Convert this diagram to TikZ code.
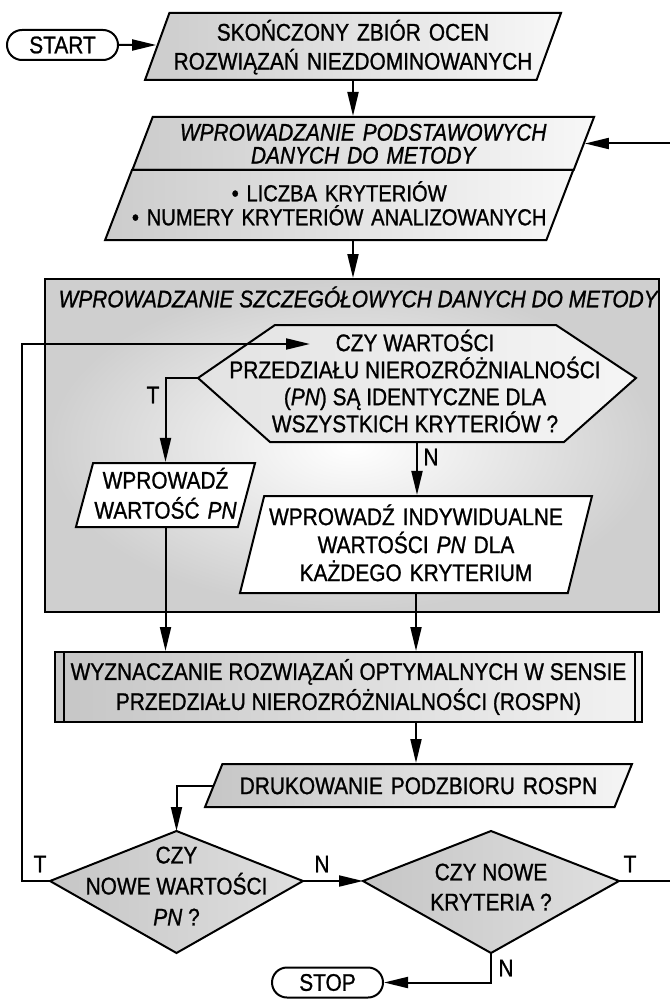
\documentclass[tikz,border=0pt]{standalone}
\usepackage{fontspec}
\setmainfont{Liberation Sans}[FakeStretch=0.87, FakeBold=1.0]
\usetikzlibrary{positioning}
\usetikzlibrary{calc}
\usetikzlibrary{arrows.meta}
\usetikzlibrary{shapes.geometric}
\usetikzlibrary{shapes.misc}

\begin{document}
\begin{tikzpicture}[x=0.5pt, y=-0.5pt, line width=1pt]
    % Flowchart style
    \tikzset{
        every node/.style={font=\fontsize{12}{14.5}\selectfont, align=center},
        flow/.style={-{Triangle[length=12pt,width=5.5pt]}},
        termbox/.style={rounded rectangle, draw, fill=white, minimum width=55.5pt, minimum height=15pt, inner sep=0pt},
        iobox/.style={trapezium, draw, inner sep=0pt, left color=gray!40, right color=gray!6},
        inbox/.style={trapezium, draw, inner sep=0pt, fill=white},
        procbox/.style={rectangle, draw, inner sep=0pt, left color=gray!45, right color=gray!10},
        groupbox/.style={rectangle, draw, inner sep=0pt, inner color=white, outer color=gray!38},
        decision/.style={draw, left color=gray!45, middle color=gray!6, right color=gray!25},
    }

    \useasboundingbox (0,0) rectangle (669,1000);

    % Start and basic data
    \node[termbox] (start) at (62.5,45) {START};
    \node[iobox, trapezium left angle=70, trapezium right angle=110, text width=183.6pt, text height=13.8pt, text depth=19.7pt] (p1) at (353,46.5) {SKOŃCZONY ZBIÓR OCEN\\ROZWIĄZAŃ NIEZDOMINOWANYCH};
    \node[iobox, trapezium left angle=69, trapezium right angle=111, text width=210.5pt, text height=11.8pt, text depth=14.7pt, font=\fontsize{12}{11.5}\selectfont\itshape] (p2a) at (363.2,143.5) {WPROWADZANIE PODSTAWOWYCH\\DANYCH DO METODY};
    \node[iobox, trapezium left angle=69, trapezium right angle=111, text width=225pt, inner xsep=-8.9pt, text height=15.65pt, text depth=19.35pt, font=\fontsize{11.6}{12}\selectfont] (p2b) at (339.2,205) {• LICZBA KRYTERIÓW\\• NUMERY KRYTERIÓW ANALIZOWANYCH};

    % Detailed data
    \node[groupbox, minimum width=307pt, minimum height=166.5pt] (detail) at (352,445.5) {};
    \node[anchor=west, font=\fontsize{12}{14.5}\selectfont\itshape] (detailhead) at (51,297) {WPROWADZANIE SZCZEGÓŁOWYCH DANYCH DO METODY};

    \coordinate (hexw) at (198,378);
    \coordinate (hexe) at (636,378);
    \coordinate (hexs) at (417,442);
    \draw[decision, left color=gray!22, middle color=white, right color=gray!8] (hexw) -- (275,325) -- (556,325) -- (hexe) -- (564,442) -- (270,442) -- cycle;
    \node[font=\fontsize{12}{13.5}\selectfont] (hex) at (415,381) {CZY WARTOŚCI\\PRZEDZIAŁU NIEROZRÓŻNIALNOŚCI\\(\textit{PN}) SĄ IDENTYCZNE DLA\\WSZYSTKICH KRYTERIÓW ?};

    \node[inbox, trapezium left angle=75, trapezium right angle=105, text width=72.4pt, text height=12.8pt, text depth=19.2pt, font=\fontsize{12}{15}\selectfont] (pv) at (165.5,495) {WPROWADŹ\\WARTOŚĆ \textit{PN}};
    \node[inbox, trapezium left angle=76, trapezium right angle=104, text width=151.8pt, text height=14.55pt, text depth=33.95pt, font=\fontsize{12}{14}\selectfont] (pind) at (416,544.5) {WPROWADŹ INDYWIDUALNE\\WARTOŚCI \textit{PN} DLA\\KAŻDEGO KRYTERIUM};

    % Processing and output
    \node[procbox, minimum width=293.5pt, minimum height=35pt, font=\fontsize{12}{15}\selectfont] (wyz) at (348.5,687) {WYZNACZANIE ROZWIĄZAŃ OPTYMALNYCH W SENSIE\\PRZEDZIAŁU NIEROZRÓŻNIALNOŚCI (ROSPN)};
    \draw[line width=0.6pt] ($(wyz.north west)+(10,0)$) -- ($(wyz.south west)+(10,0)$);
    \draw[line width=0.6pt] ($(wyz.north east)+(-8,0)$) -- ($(wyz.south east)+(-8,0)$);
    \node[iobox, trapezium left angle=68, trapezium right angle=112, text width=196.1pt, text height=15.05pt, text depth=6.45pt, left color=gray!45, right color=gray!8] (pdr) at (418.5,785.5) {DRUKOWANIE PODZBIORU ROSPN};

    % Decisions
    \coordinate (q1n) at (176.5,831);
    \coordinate (q1e) at (303,881);
    \coordinate (q1s) at (176.5,953);
    \coordinate (q1w) at (50,881);
    \draw[decision] (q1n) -- (q1e) -- (q1s) -- (q1w) -- cycle;
    \node[font=\fontsize{12}{15.5}\selectfont] (q1) at (176.5,886) {CZY\\NOWE WARTOŚCI\\\textit{PN} ?};

    \coordinate (q2n) at (491,831);
    \coordinate (q2e) at (619,881);
    \coordinate (q2s) at (491,953);
    \coordinate (q2w) at (363,881);
    \draw[decision] (q2n) -- (q2e) -- (q2s) -- (q2w) -- cycle;
    \node[font=\fontsize{12}{15}\selectfont] (q2) at (491,887) {CZY NOWE\\KRYTERIA ?};

    \node[termbox] (stop) at (327.5,982.5) {STOP};

    % Loop corners
    \coordinate (lloop) at (22,881);
    \coordinate (loopin) at (310,344);
    \coordinate (rloop) at (673,881);

    % Branch labels
    \node (tpn) at (153,395) {T};
    \node (npn) at (431,457) {N};
    \node (tnew) at (40,864) {T};
    \node (nnew) at (322,864) {N};
    \node (tkry) at (630,864) {T};
    \node (nkry) at (506,968) {N};

    % Connection
    \draw[flow] (start) -- (start -| p1.west);
    \draw[flow] (p1.center |- p1.south) -- (p1.center |- p2a.north);
    \draw[flow] (p1.center |- p2b.south) -- (p1.center |- detail.north);
    \draw[flow] (hexw) -| (pv.center |- pv.north);
    \draw[flow] (hexs) -- (hexs |- pind.north);
    \draw[flow] (pv.center |- pv.south) -- (pv.center |- wyz.north);
    \draw[flow] (pind.center |- pind.south) -- (pind.center |- wyz.north);
    \draw[flow] (pind.center |- wyz.south) -- (pind.center |- pdr.north);
    \draw[flow] (pdr.west) -| (q1n);
    \draw[flow] (q1w) -- (lloop) |- (loopin);
    \draw[flow] (q1e) -- (q2w);
    \draw[flow] (q2e) -- (rloop) |- (p2a.east);
    \draw[flow] (q2s) |- (stop.east);
\end{tikzpicture}
\end{document}
